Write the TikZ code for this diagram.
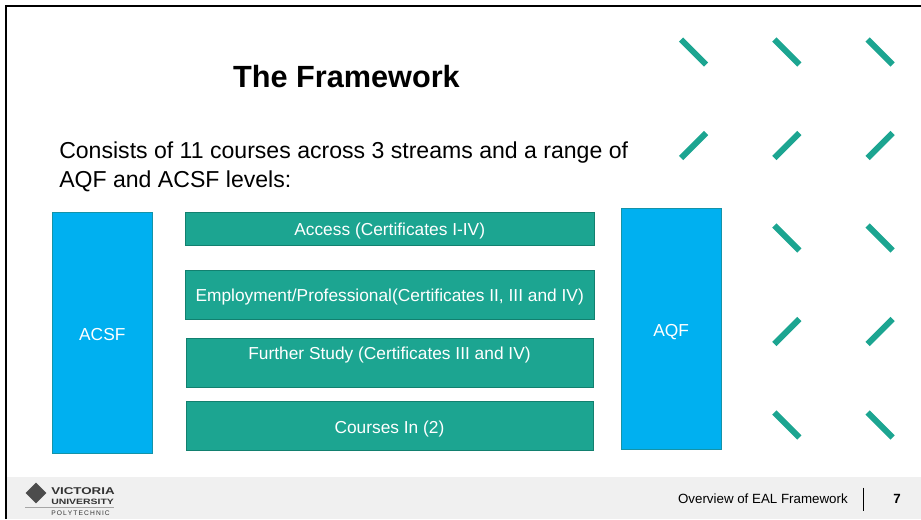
\documentclass[tikz,border=0pt]{standalone}
\usepackage{xcolor}
\usepackage{fontspec}
\setmainfont{Liberation Sans}
\newfontfamily\logofont[FakeStretch=1.35]{Liberation Sans}
\usetikzlibrary{shapes,backgrounds,calc}
\definecolor{tealfill}{HTML}{1CA591}
\definecolor{tealedge}{HTML}{12806F}
\definecolor{bluefill}{HTML}{00B0F0}
\definecolor{blueedge}{HTML}{1493A8}
\definecolor{footgray}{HTML}{F0F0F0}
\tikzset{
    streambox/.style={draw=tealedge, fill=tealfill, text=white, font=\fontsize{13}{14}\selectfont, align=center, inner sep=0pt, text height=11pt, text depth=0pt},
    levelbox/.style={draw=blueedge, fill=bluefill, text=white, font=\fontsize{13}{14}\selectfont, inner sep=0pt, minimum width=100.5*0.75pt, text height=11pt, text depth=0pt},
    tick/.style={draw=tealfill, line width=6*0.75pt},
    logotext/.style={inner sep=0pt, anchor=west, text=black!80}
}
\begin{document}
\begin{tikzpicture}[x=0.75pt,y=-0.75pt]
    \useasboundingbox (0,0) rectangle (921,519);

    % Footer band and slide frame
    \fill[footgray] (7,477) rectangle (921,519);
    \draw[black, line width=2.2pt] (6,519) -- (6,6) -- (921,6);

    % Title and intro text
    \node[font=\bfseries\fontsize{23}{26}\selectfont, inner sep=0pt] (title) at (346.5,77) {The Framework};
    \node[font=\fontsize{17.3}{21.5}\selectfont, align=left, anchor=north west, inner sep=0pt] (intro) at (59,142)
        {Consists of 11 courses across 3 streams and a range of\\AQF and ACSF levels:};

    % Level boxes on either side
    \node[levelbox, minimum height=241.5*0.75pt] (acsf) at (102.3,333) {ACSF};
    \node[levelbox, minimum height=241.5*0.75pt] (aqf) at (671.2,329) {AQF};

    % The streams
    \node[streambox, minimum width=409.5*0.75pt, minimum height=33*0.75pt] (access) at (389.7,228.5) {Access (Certificates I-IV)};
    \node[streambox, minimum width=409.5*0.75pt, minimum height=49*0.75pt] (employment) at (389.7,294.5) {Employment/Professional(Certificates II, III and IV)};
    \node[streambox, minimum width=407*0.75pt, minimum height=49.5*0.75pt, text height=9pt, text depth=13.5pt] (further) at (389.5,362.8) {Further Study (Certificates III and IV)};
    \node[streambox, minimum width=407*0.75pt, minimum height=49.5*0.75pt] (courses) at (389.5,425.8) {Courses In (2)};

    % Ticks down the right side
    \foreach \col in {678,771.3,864.6} {
        \foreach \row in {38,224,411} {
            \ifdim\col pt<700pt \ifnum\row>38 \else
                \draw[tick] (\col+3,\row+1.5) -- (\col+28,\row+26.5);
            \fi \else
                \draw[tick] (\col+3,\row+1.5) -- (\col+28,\row+26.5);
            \fi
        }
        \foreach \row in {131,317} {
            \ifdim\col pt<700pt \ifnum\row>131 \else
                \draw[tick] (\col+3,\row+27) -- (\col+28,\row+2);
            \fi \else
                \draw[tick] (\col+3,\row+27) -- (\col+28,\row+2);
            \fi
        }
    }

    % Logo
    \node[diamond, aspect=1, fill=black!70, inner sep=0pt, minimum size=21*0.75pt] (logomark) at (36,493) {};
    \node[logotext, font=\logofont\bfseries\fontsize{7.4}{8}\selectfont] (logotop) at (51,491) {VICTORIA};
    \node[logotext, font=\logofont\bfseries\fontsize{5.8}{8}\selectfont] (logomid) at (51,501.5) {UNIVERSITY};
    \node[logotext, font=\fontsize{5}{5}\selectfont] (logolow) at (51,513) {P\,O\,L\,Y\,T\,E\,C\,H\,N\,I\,C};
    \draw[black!35, line width=0.4pt] (25,507.5) -- (114,507.5);

    % Footer text
    \node[font=\fontsize{10}{11}\selectfont, anchor=east, inner sep=0pt] (foottext) at (848,499) {Overview of EAL Framework};
    \node[font=\bfseries\fontsize{10}{11}\selectfont, inner sep=0pt] (pagenum) at (897,499) {7};
    \draw[black, line width=0.7pt] (863.5,487.5) -- (863.5,511);
\end{tikzpicture}
\end{document}
